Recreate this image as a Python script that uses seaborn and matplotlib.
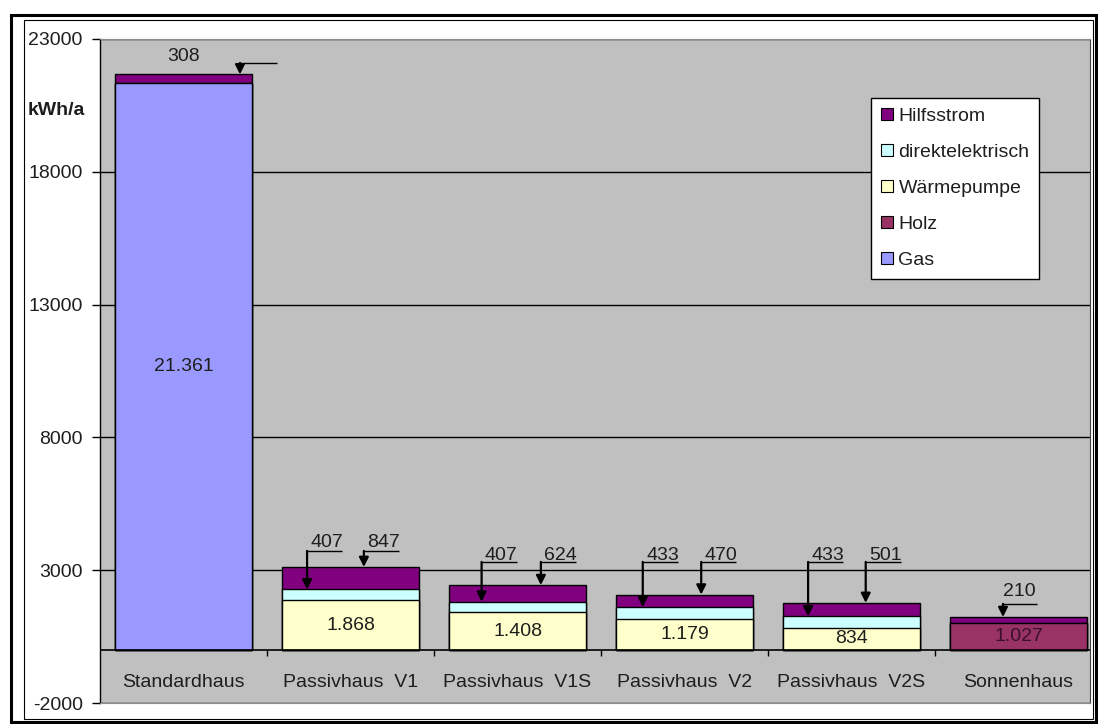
import matplotlib
matplotlib.use("Agg")
import matplotlib.pyplot as plt
from matplotlib.patches import Patch, Rectangle
import numpy as np
import pandas as pd
import seaborn as sns

# --- data -----------------------------------------------------------------
categories = ["Standardhaus", "Passivhaus  V1", "Passivhaus  V1S",
              "Passivhaus  V2", "Passivhaus  V2S", "Sonnenhaus"]
gas = [21361, 0, 0, 0, 0, 0]
holz = [0, 0, 0, 0, 0, 1027]
waermepumpe = [0, 1868, 1408, 1179, 834, 0]
direktelektrisch = [0, 407, 407, 433, 433, 0]
hilfsstrom = [308, 847, 624, 470, 501, 210]
base_source = ["Gas", "Wärmepumpe", "Wärmepumpe", "Wärmepumpe", "Wärmepumpe", "Holz"]
legend_order = ["Hilfsstrom", "direktelektrisch", "Wärmepumpe", "Holz", "Gas"]
y_ticks = [-2000, 3000, 8000, 13000, 18000, 23000]
unit_label = "kWh/a"

colors = {
    "Hilfsstrom": "#800080",
    "direktelektrisch": "#CCFFFF",
    "Wärmepumpe": "#FFFFCC",
    "Holz": "#993366",
    "Gas": "#9999FF",
}

df = pd.DataFrame({
    "category": categories,
    "source": base_source,
    "base": np.array(gas) + np.array(holz) + np.array(waermepumpe),
})
df["mid"] = df["base"] + np.array(direktelektrisch)
df["total"] = df["mid"] + np.array(hilfsstrom)


def de(v):
    return f"{int(v):,}".replace(",", ".")


# --- figure ---------------------------------------------------------------
sns.set_style("white")
plt.rcParams["font.family"] = ["Liberation Sans", "DejaVu Sans"]
plt.rcParams["font.size"] = 14
TXT = "#1e1e1e"

W, H = 1099, 724
fig = plt.figure(figsize=(W / 100, H / 100), dpi=100, facecolor="white")
ax = fig.add_axes([100 / W, 1 - 703 / H, (1090 - 100) / W, (703 - 39) / H])
ax.set_facecolor("#C0C0C0")

bar_kw = dict(order=categories, width=0.826, saturation=1, errorbar=None,
              edgecolor="black", linewidth=1.0, ax=ax)
# stacked bars: draw cumulative heights from the top layer down
sns.barplot(data=df, x="category", y="total", color=colors["Hilfsstrom"], **bar_kw)
sns.barplot(data=df, x="category", y="mid", color=colors["direktelektrisch"], **bar_kw)
sns.barplot(data=df, x="category", y="base", hue="source", palette=colors,
            dodge=False, legend=False, **bar_kw)

ax.set_xlim(-0.5, 5.428)
ax.set_ylim(y_ticks[0], y_ticks[-1])
ax.set_yticks(y_ticks)
ax.set_yticklabels([str(t) for t in y_ticks], color=TXT, fontsize=14)
ax.set_xticks([])
ax.set_xlabel("")
ax.set_ylabel("")

ax.set_axisbelow(True)
ax.grid(axis="y", color="black", lw=1.0)
ax.grid(axis="x", visible=False)
ax.tick_params(axis="y", left=True, length=6, width=1, color="black", pad=6.5)

ax.spines["left"].set_color("black")
ax.spines["left"].set_linewidth(1.0)
ax.spines["top"].set_color("#8c8c8c")
ax.spines["bottom"].set_color("#8c8c8c")
ax.spines["right"].set_color("#404040")
for s in ax.spines.values():
    s.set_visible(True)

# category axis at zero with separator ticks
ax.axhline(0, color="black", lw=1.2, zorder=2)
ax.vlines(np.arange(len(categories) - 1) + 0.5, -230, 0, color="black", lw=1.0, zorder=2)
for i, name in enumerate(categories):
    ax.text(i, -1393, name, ha="center", va="baseline", fontsize=14, color=TXT)

# values inside the base segments
for i, v in enumerate(df["base"]):
    ax.text(i, v / 2, de(v), ha="center", va="center", fontsize=14,
            color="#3a0f2c" if base_source[i] == "Holz" else TXT, zorder=3)


# callouts for the thin segments
def callout(x_arrow, x0, x1, line_y, tip_y, label, tx, ty, ha="left"):
    ax.plot([x0, x1], [line_y, line_y], color="black", lw=1.0,
            solid_capstyle="butt", zorder=4)
    ax.annotate("", xy=(x_arrow, tip_y), xytext=(x_arrow, line_y),
                arrowprops=dict(arrowstyle="-|>", color="black", lw=1.6,
                                mutation_scale=14, shrinkA=0, shrinkB=0),
                zorder=4)
    ax.text(tx, ty, label, ha=ha, va="baseline", fontsize=14, color=TXT, zorder=4)


# Standardhaus: auxiliary power
callout(0.338, 0.338, 0.56, 22101, df["total"][0], de(hilfsstrom[0]), 0.0, 22176, ha="center")

# Passivhaus variants: direct electric + auxiliary power
dx_direkt = [-0.26, -0.215, -0.25, -0.26]
dx_hilfs = [0.08, 0.14, 0.10, 0.085]
line_y = [3727, 3313, 3313, 3313]
text_y = [3878, 3389, 3389, 3389]
for k, i in enumerate(range(1, 5)):
    xd = i + dx_direkt[k]
    callout(xd, xd, xd + 0.21, line_y[k], df["mid"][i], de(direktelektrisch[i]),
            xd + 0.02, text_y[k])
    xh = i + dx_hilfs[k]
    callout(xh, xh, xh + 0.21, line_y[k], df["total"][i], de(hilfsstrom[i]),
            xh + 0.02, text_y[k])

# Sonnenhaus: auxiliary power
callout(4.907, 4.90, 5.11, 1732, df["total"][5], de(hilfsstrom[5]), 4.907, 2033)

# unit label
ax.text(-0.073, 0.893, unit_label, transform=ax.transAxes, ha="left", va="center",
        fontsize=14, fontweight="bold", color=TXT)

# legend
handles = [Patch(facecolor=colors[n], edgecolor="black", lw=0.8) for n in legend_order]
leg = ax.legend(handles, legend_order, loc="upper left", bbox_to_anchor=(0.779, 0.911),
                borderaxespad=0, fontsize=14, frameon=True, fancybox=False,
                edgecolor="black", facecolor="white", framealpha=1,
                handlelength=0.6, handleheight=0.55, handletextpad=0.3,
                labelspacing=0.98, borderpad=0.5)
leg.get_frame().set_linewidth(1.0)
for t in leg.get_texts():
    t.set_color(TXT)


# page frames
def frame(x0, y0, x1, y1, lw):
    fig.add_artist(Rectangle((x0 / W, 1 - y1 / H), (x1 - x0) / W, (y1 - y0) / H,
                             transform=fig.transFigure, fill=False,
                             edgecolor="black", lw=lw))


frame(11, 14.5, 1096, 721.5, 2.2)
frame(24, 19.5, 1093, 719, 0.8)

fig.savefig("out.png", dpi=100, facecolor="white")
